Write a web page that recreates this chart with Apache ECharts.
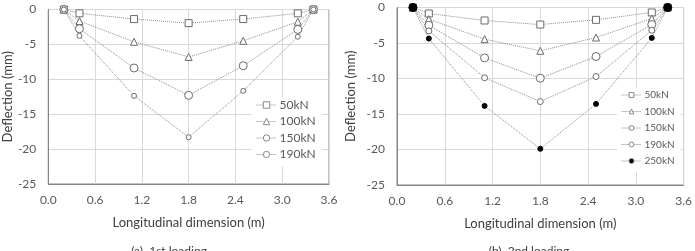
<!DOCTYPE html>
<html>
<head>
<meta charset="utf-8">
<script src="https://cdn.jsdelivr.net/npm/echarts@6/dist/echarts.min.js"></script>
<style>
  html, body { margin: 0; padding: 0; background: #fff; }
  #chart { width: 695px; height: 251px; }
</style>
</head>
<body>
<div id="chart"></div>
<script>
  // measuring positions along the span (m)
  const xPos = [0.2, 0.4, 1.1, 1.8, 2.5, 3.2, 3.4]
  const xTicks = [0.0, 0.6, 1.2, 1.8, 2.4, 3.0, 3.6]

  // (a) 1st loading, deflection in mm
  const first50 = [0, -0.55, -1.37, -1.95, -1.37, -0.55, 0]
  const first100 = [0, -1.66, -4.63, -6.8, -4.49, -1.75, 0]
  const first150 = [0, -2.76, -8.38, -12.3, -8.05, -2.86, 0]
  const first190 = [0, -3.77, -12.37, -18.3, -11.65, -3.9, 0]

  // (b) 2nd loading
  const second50 = [0, -0.85, -1.83, -2.4, -1.74, -0.7, 0]
  const second100 = [0, -1.65, -4.46, -6.1, -4.23, -1.55, 0]
  const second150 = [0, -2.5, -7.1, -9.96, -6.9, -2.4, 0]
  const second190 = [0, -3.3, -9.9, -13.25, -9.72, -3.2, 0]
  const second250 = [0, -4.37, -13.86, -19.9, -13.58, -4.28, 0]

  const font = 'Lato, "Noto Sans", sans-serif'
  const textColor = '#595959'

  const pair = (ys) => xPos.map((x, i) => [x, ys[i]])

  function mkSeries (name, ys, idx, symbol, size, fill) {
    return {
      name: name,
      type: 'line',
      xAxisIndex: idx,
      yAxisIndex: idx,
      data: pair(ys),
      symbol: symbol,
      symbolSize: size,
      showSymbol: true,
      lineStyle: { color: '#8c8c8c', width: 1, type: 'dotted' },
      itemStyle: { color: fill, borderColor: '#6b6b6b', borderWidth: 1 },
      emphasis: { disabled: true },
      z: 3
    }
  }

  function xAxisOf (idx) {
    return {
      type: 'value',
      gridIndex: idx,
      min: 0,
      max: 3.6,
      interval: 0.6,
      name: 'Longitudinal dimension (m)',
      nameLocation: 'middle',
      nameGap: 32,
      nameTextStyle: { fontFamily: font, fontSize: 13, color: '#404040' },
      axisLine: { show: true, onZero: false, lineStyle: { color: '#868686' } },
      axisTick: { show: false },
      axisLabel: {
        margin: 10,
        fontFamily: font,
        fontSize: 12,
        color: textColor,
        formatter: (v) => v.toFixed(1)
      },
      splitLine: { show: true, lineStyle: { color: '#d9d9d9' } }
    }
  }

  function yAxisOf (idx, gap) {
    return {
      type: 'value',
      gridIndex: idx,
      min: -25,
      max: 0,
      interval: 5,
      name: 'Deflection (mm)',
      nameLocation: 'middle',
      nameGap: gap,
      nameTextStyle: { fontFamily: font, fontSize: 13, color: '#404040' },
      axisLine: { show: true, lineStyle: { color: '#868686' } },
      axisTick: { show: false },
      axisLabel: { margin: 12, fontFamily: font, fontSize: 12, color: textColor },
      splitLine: { show: true, lineStyle: { color: '#d9d9d9' } }
    }
  }

  function legendOf (names, left, top, size, gap) {
    return {
      data: names,
      orient: 'vertical',
      left: left,
      top: top,
      padding: [2, 6, 6, 4],
      backgroundColor: '#fff',
      itemWidth: 20,
      itemHeight: size,
      itemGap: gap,
      selectedMode: false,
      itemStyle: { borderWidth: 0.8, borderColor: '#6b6b6b' },
      lineStyle: { width: 1, type: 'dotted', color: '#8c8c8c' },
      textStyle: { fontFamily: font, fontSize: size + 4, color: textColor, lineHeight: size + 4, padding: [0, 0, 0, -2] }
    }
  }

  let elem = echarts.init(document.getElementById('chart'))
  let option = {
    animation: false,
    title: [
      {
        text: '(a)  1st loading',
        left: 164,
        top: 240,
        textAlign: 'center',
        textStyle: { fontFamily: font, fontSize: 12, fontWeight: 'normal', color: '#404040' }
      },
      {
        text: '(b)  2nd loading',
        left: 524,
        top: 240,
        textAlign: 'center',
        textStyle: { fontFamily: font, fontSize: 12, fontWeight: 'normal', color: '#404040' }
      }
    ],
    grid: [
      { left: 40, top: 9.5, width: 289, height: 174.5, show: true, borderColor: '#868686', borderWidth: 1 },
      { left: 397, top: 7.5, width: 291, height: 177.5, show: true, borderColor: '#868686', borderWidth: 1 }
    ],
    legend: [
      legendOf(['50kN', '100kN', '150kN', '190kN'], 252, 97, 8, 4.5),
      legendOf(['50kN', '100kN', '150kN', '190kN', '250kN'], 617, 88, 6, 6.5)
    ],
    xAxis: [xAxisOf(0), xAxisOf(1)],
    yAxis: [yAxisOf(0, 30), yAxisOf(1, 40)],
    series: [
      mkSeries('50kN', first50, 0, 'rect', 7, '#fff'),
      mkSeries('100kN', first100, 0, 'triangle', 7, '#fff'),
      mkSeries('150kN', first150, 0, 'circle', 8, '#fff'),
      mkSeries('190kN', first190, 0, 'circle', 5, '#fff'),
      mkSeries('50kN', second50, 1, 'rect', 7, '#fff'),
      mkSeries('100kN', second100, 1, 'triangle', 7, '#fff'),
      mkSeries('150kN', second150, 1, 'circle', 8, '#fff'),
      mkSeries('190kN', second190, 1, 'circle', 6, '#fff'),
      Object.assign(mkSeries('250kN', second250, 1, 'circle', 5, '#000'), {
        symbolSize: (v) => (v[1] === 0 ? 8 : 5),
        itemStyle: { color: '#000', borderColor: '#000', borderWidth: 1 },
        z: 4
      })
    ]
  }
  elem.setOption(option)
</script>
</body>
</html>
